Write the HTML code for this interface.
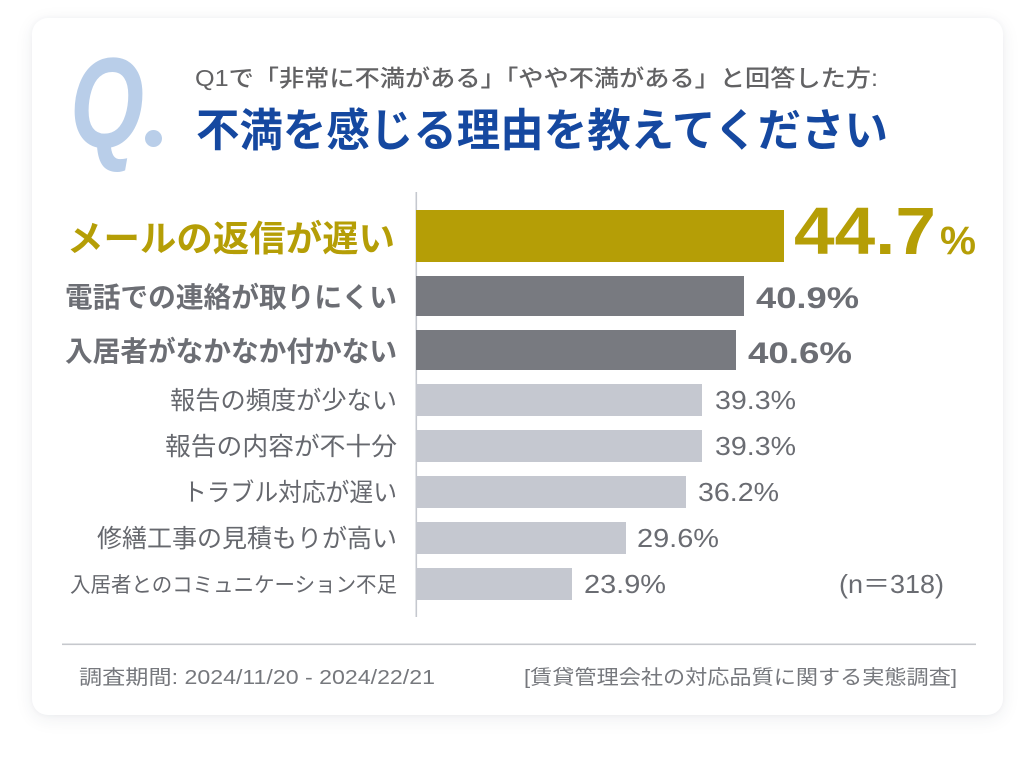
<!DOCTYPE html>
<html>
<head>
<meta charset="utf-8">
<style>
  html,body{margin:0;padding:0;background:#ffffff;}
  body{width:1036px;height:760px;position:relative;overflow:hidden;}
  .card{position:absolute;left:32px;top:18px;width:971px;height:697px;background:#fff;border-radius:16px;
        box-shadow:0 4px 18px rgba(40,50,80,0.08),0 0 6px rgba(40,50,80,0.04);}
  svg{position:absolute;left:0;top:0;}
  text{font-family:"Liberation Sans","Noto Sans CJK JP",sans-serif;}
</style>
</head>
<body>
<div class="card"></div>
<svg width="1036" height="760" viewBox="0 0 1036 760" xmlns="http://www.w3.org/2000/svg">
  <!-- Q. mark -->
  <text x="70" y="147" font-size="128" font-style="italic" font-weight="700" fill="#b9cee9" textLength="74" lengthAdjust="spacingAndGlyphs">Q</text>
  <circle cx="153.5" cy="138.5" r="8.5" fill="#b9cee9"/>

  <!-- subtitle & title -->
  <text x="195" y="86" font-size="23" font-weight="500" fill="#626264" textLength="683" lengthAdjust="spacingAndGlyphs">Q1で「非常に不満がある」「やや不満がある」と回答した方:</text>
  <text x="196" y="146" font-size="45" font-weight="700" fill="#1548a0" textLength="692" lengthAdjust="spacingAndGlyphs">不満を感じる理由を教えてください</text>

  <!-- axis -->
  <rect x="415.5" y="192" width="1.6" height="425" fill="#c5c8cf"/>

  <!-- bars -->
  <rect x="416" y="210" width="368" height="52" fill="#b59e06"/>
  <rect x="416" y="276" width="328" height="40" fill="#787a80"/>
  <rect x="416" y="330" width="320" height="40" fill="#787a80"/>
  <rect x="416" y="384" width="286" height="32" fill="#c5c8d0"/>
  <rect x="416" y="430" width="286" height="32" fill="#c5c8d0"/>
  <rect x="416" y="476" width="270" height="32" fill="#c5c8d0"/>
  <rect x="416" y="522" width="210" height="32" fill="#c5c8d0"/>
  <rect x="416" y="568" width="156" height="32" fill="#c5c8d0"/>

  <!-- category labels -->
  <text x="67" y="251" font-size="36" font-weight="700" fill="#b59e06" textLength="328" lengthAdjust="spacingAndGlyphs">メールの返信が遅い</text>
  <text x="65" y="307" font-size="28" font-weight="700" fill="#6c6e74" textLength="332" lengthAdjust="spacingAndGlyphs">電話での連絡が取りにくい</text>
  <text x="65" y="361" font-size="28" font-weight="700" fill="#6c6e74" textLength="332" lengthAdjust="spacingAndGlyphs">入居者がなかなか付かない</text>
  <text x="170" y="409" font-size="25" fill="#66686e" textLength="227" lengthAdjust="spacingAndGlyphs">報告の頻度が少ない</text>
  <text x="165" y="455" font-size="25" fill="#66686e" textLength="232" lengthAdjust="spacingAndGlyphs">報告の内容が不十分</text>
  <text x="183" y="501" font-size="25" fill="#66686e" textLength="214" lengthAdjust="spacingAndGlyphs">トラブル対応が遅い</text>
  <text x="97" y="547" font-size="25" fill="#66686e" textLength="300" lengthAdjust="spacingAndGlyphs">修繕工事の見積もりが高い</text>
  <text x="70" y="592" font-size="21" fill="#66686e" textLength="327" lengthAdjust="spacingAndGlyphs">入居者とのコミュニケーション不足</text>

  <!-- values -->
  <text x="794" y="254" font-size="67" font-weight="700" fill="#b59e06" textLength="142" lengthAdjust="spacingAndGlyphs">44.7</text>
  <text x="940" y="254" font-size="40" font-weight="700" fill="#b59e06" textLength="36" lengthAdjust="spacingAndGlyphs">%</text>
  <text x="756" y="308" font-size="30" font-weight="700" fill="#6c6e74" textLength="103" lengthAdjust="spacingAndGlyphs">40.9%</text>
  <text x="748" y="363" font-size="30" font-weight="700" fill="#6c6e74" textLength="104" lengthAdjust="spacingAndGlyphs">40.6%</text>
  <text x="715" y="409" font-size="26" fill="#6a6c72" textLength="81" lengthAdjust="spacingAndGlyphs">39.3%</text>
  <text x="715" y="455" font-size="26" fill="#6a6c72" textLength="81" lengthAdjust="spacingAndGlyphs">39.3%</text>
  <text x="698" y="501" font-size="26" fill="#6a6c72" textLength="81" lengthAdjust="spacingAndGlyphs">36.2%</text>
  <text x="637" y="547" font-size="26" fill="#6a6c72" textLength="82" lengthAdjust="spacingAndGlyphs">29.6%</text>
  <text x="584" y="593" font-size="26" fill="#6a6c72" textLength="82" lengthAdjust="spacingAndGlyphs">23.9%</text>
  <text x="839" y="593" font-size="26" fill="#6a6c72" textLength="105" lengthAdjust="spacingAndGlyphs">(n＝318)</text>

  <!-- separator -->
  <rect x="62" y="643.5" width="914" height="1.6" fill="#c6c8cd"/>

  <!-- footer -->
  <text x="79" y="684" font-size="20" fill="#76787d" textLength="356" lengthAdjust="spacingAndGlyphs">調査期間: 2024/11/20 - 2024/22/21</text>
  <text x="524" y="684" font-size="20" fill="#76787d" textLength="433" lengthAdjust="spacingAndGlyphs">[賃貸管理会社の対応品質に関する実態調査]</text>
</svg>
</body>
</html>
